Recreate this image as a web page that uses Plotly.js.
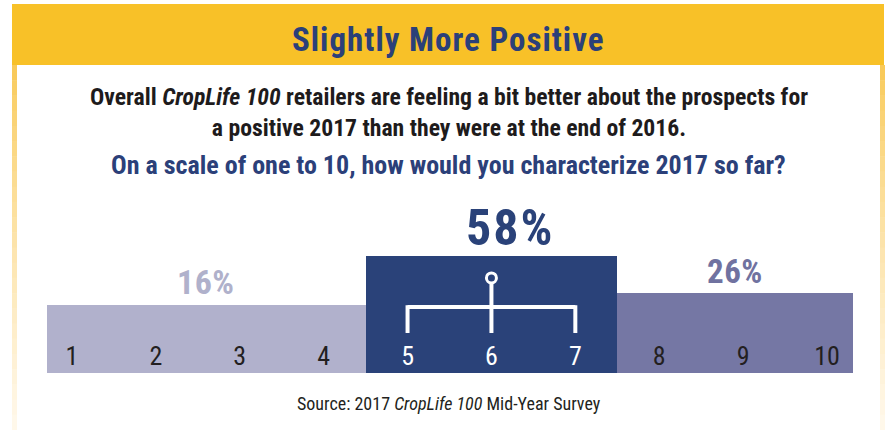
<!DOCTYPE html>
<html>
<head>
<meta charset="utf-8">
<script src="https://cdn.plot.ly/plotly-3.0.1.min.js"></script>
<style>html,body{margin:0;padding:0;background:#fff;}#chart{width:896px;height:430px;}</style>
</head>
<body>
<div id="chart"></div>
<script>
// ---- data ----
const groupLabels = ["1–4", "5–7", "8–10"];
const groupLow = [1, 5, 8];
const groupHigh = [4, 7, 10];
const groupShare = [16, 58, 26];
const scalePoints = [1, 2, 3, 4, 5, 6, 7, 8, 9, 10];
const scaleLabels = ["1", "2", "3", "4", "5", "6", "7", "8", "9", "10"];

const titleText = "Slightly More Positive";
const introText = "Overall <i>CropLife 100</i> retailers are feeling a bit better about the prospects for<br>a positive 2017 than they were at the end of 2016.";
const questionText = "On a scale of one to 10, how would you characterize 2017 so far?";
const sourceText = "Source: 2017 <i>CropLife 100</i> Mid-Year Survey";

// ---- style ----
const W = 896, H = 430;
const FONT = "Roboto Condensed, DejaVu Sans Condensed, sans-serif";
const NAVY = "#2B4079";
const YELLOW = "#F8C128";
const barColors = ["#B1B1CC", "#2A4279", "#7577A4"];
const pctColors = ["#B0B1CB", "#2A4279", "#7072A0"];
const pctSizes = [34, 50, 33];
const pctSpacing = [0.5, 2, 0.5];
const pctShift = [0, 19, 0];
const pctYShift = [1, -3, 0];
const tickColors = scalePoints.map(v => (v >= groupLow[1] && v <= groupHigh[1]) ? "#FFFFFF" : "#231F20");
const FLOOR = -42.3;         // truncated axis baseline
const X_RANGE = [0.702, 10.31];
const Y_RANGE = [FLOOR, 114.6];

const px = p => p / W;
const py = p => 1 - p / H;
const spaced = (s, ls) => `<span style="letter-spacing:${ls}px">${s}</span>`;

const barX = groupLow.map((lo, i) => (lo + groupHigh[i]) / 2);
const barW = groupLow.map((lo, i) => groupHigh[i] - lo + 1);
const clamp = v => Math.min(Math.max(v, X_RANGE[0]), X_RANGE[1]);
const visCenter = groupLow.map((lo, i) => (clamp(lo - 0.5) + clamp(groupHigh[i] + 0.5)) / 2);

const trace = {
  type: "bar",
  x: barX,
  base: groupShare.map(() => FLOOR),
  y: groupShare.map(v => v - FLOOR),   // bar spans FLOOR .. share
  customdata: groupShare,
  width: barW,
  text: groupLabels,
  textposition: "none",
  marker: {color: barColors, line: {width: 0}},
  hoverinfo: "skip",
  showlegend: false
};

const annotations = [
  {text: "<b>" + spaced(titleText, 1) + "</b>", x: 0.501, y: py(39.5), font: {family: FONT, size: 33, color: NAVY}},
  {text: "<b>" + introText + "</b>", x: 0.501, y: py(112), font: {family: FONT, size: 23.7, color: "#1E1B1C"}},
  {text: "<b>" + questionText + "</b>", x: 0.501, y: py(165), font: {family: FONT, size: 26, color: NAVY}},
  {text: sourceText, x: 0.501, y: py(403), font: {family: FONT, size: 18, color: "#231F20"}}
].map(a => Object.assign({xref: "paper", yref: "paper", xanchor: "center", yanchor: "middle", showarrow: false}, a));

groupShare.forEach((v, i) => {
  annotations.push({
    xref: "x", yref: "y", x: visCenter[i], y: v, xanchor: "center", yanchor: "bottom",
    xshift: pctShift[i], yshift: pctYShift[i], showarrow: false,
    text: "<b>" + spaced(v + "%", pctSpacing[i]) + "</b>",
    font: {family: FONT, size: pctSizes[i], color: pctColors[i]}
  });
});

const shapes = [];
// header band
shapes.push({type: "rect", xref: "paper", yref: "paper", x0: px(12), x1: px(884), y0: py(65), y1: py(4),
  fillcolor: YELLOW, line: {width: 0}, layer: "below"});
// fading side borders
const N = 24, yTop = 65, yBot = 430;
const c0 = [249, 202, 90], c1 = [255, 248, 234];
for (let k = 0; k < N; k++) {
  const t = k / (N - 1);
  const c = c0.map((v, j) => Math.round(v + (c1[j] - v) * Math.pow(t, 0.8)));
  const col = `rgb(${c[0]},${c[1]},${c[2]})`;
  const a = yTop + (yBot - yTop) * k / N, b = yTop + (yBot - yTop) * (k + 1) / N + 0.5;
  [[12, 17], [880, 885]].forEach(([l, r]) => shapes.push({type: "rect", xref: "paper", yref: "paper",
    x0: px(l), x1: px(r), y0: py(b), y1: py(a), fillcolor: col, line: {width: 0}, layer: "below"}));
}
// bracket over the middle group
const midLo = groupLow[1], midHi = groupHigh[1], midC = barX[1];
const LW = 4;
const white = {color: "#FFFFFF", width: LW};
shapes.push({type: "line", xref: "x", yref: "y", x0: midLo, x1: midHi, y0: 14.3, y1: 14.3, line: white});
shapes.push({type: "line", xref: "x", yref: "y", x0: midLo, x1: midLo, y0: -8, y1: 14.3 + 1.5, line: white});
shapes.push({type: "line", xref: "x", yref: "y", x0: midHi, x1: midHi, y0: -8, y1: 14.3 + 1.5, line: white});
shapes.push({type: "line", xref: "x", yref: "y", x0: midC, x1: midC, y0: -8, y1: 35, line: white});
shapes.push({type: "circle", xref: "x", yref: "y", xsizemode: "pixel", ysizemode: "pixel",
  xanchor: midC, yanchor: 39.2, x0: -5, x1: 5, y0: -5, y1: 5,
  fillcolor: barColors[1], line: {color: "#FFFFFF", width: 3}});

const layout = {
  width: W, height: H, autosize: false,
  margin: {l: 0, r: 0, t: 0, b: 0, pad: 0},
  paper_bgcolor: "#FFFFFF", plot_bgcolor: "rgba(0,0,0,0)",
  bargap: 0,
  xaxis: {
    domain: [px(47), px(853)], range: X_RANGE, fixedrange: true,
    showgrid: false, zeroline: false, showline: false, ticks: "",
    tickmode: "array", tickvals: scalePoints,
    ticktext: scaleLabels.map((s, i) => `<span style="color:${tickColors[i]}">${s}</span>`),
    ticklabelposition: "inside", ticklabelstandoff: 0,
    tickfont: {family: FONT, size: 26, color: "#231F20"}
  },
  yaxis: {
    domain: [1 - 373 / H, 1 - 190 / H], range: Y_RANGE, fixedrange: true,
    showgrid: false, zeroline: false, showline: false, showticklabels: false, ticks: ""
  },
  annotations: annotations,
  shapes: shapes,
  showlegend: false
};

Plotly.newPlot("chart", [trace], layout, {displayModeBar: false, staticPlot: true});
</script>
</body>
</html>
